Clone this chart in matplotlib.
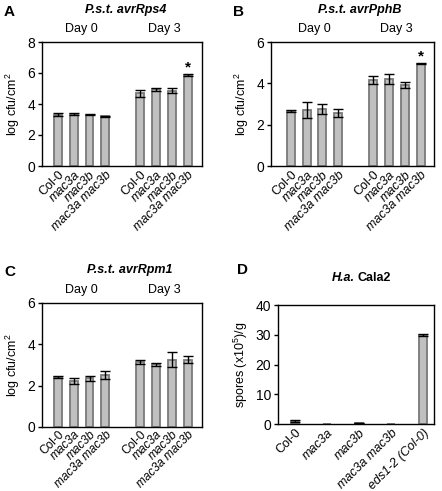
import matplotlib
matplotlib.use("Agg")
import matplotlib.pyplot as plt
from matplotlib.transforms import blended_transform_factory

plt.rcParams['font.family'] = ['Liberation Sans', 'DejaVu Sans']
plt.rcParams['mathtext.fontset'] = 'custom'
plt.rcParams['mathtext.rm'] = 'Liberation Sans'

W, H = 442, 491

genotypes = ["Col-0", "mac3a", "mac3b", "mac3a mac3b"]
italic_flags = [False, True, True, True]
days = ["Day 0", "Day 3"]

# Panel A: P.s.t. avrRps4
a_day0 = [3.32, 3.37, 3.30, 3.21]
a_day0_err = [0.10, 0.05, 0.04, 0.04]
a_day3 = [4.68, 4.95, 4.85, 5.88]
a_day3_err = [0.20, 0.10, 0.16, 0.08]

# Panel B: P.s.t. avrPphB
b_day0 = [2.67, 2.72, 2.76, 2.56]
b_day0_err = [0.06, 0.40, 0.22, 0.18]
b_day3 = [4.17, 4.20, 3.92, 4.95]
b_day3_err = [0.20, 0.25, 0.15, 0.03]

# Panel C: P.s.t. avrRpm1
c_day0 = [2.42, 2.22, 2.35, 2.50]
c_day0_err = [0.06, 0.14, 0.14, 0.20]
c_day3 = [3.13, 3.03, 3.25, 3.25]
c_day3_err = [0.10, 0.08, 0.36, 0.17]

# Panel D: H.a. Cala2
d_labels = ["Col-0", "mac3a", "mac3b", "mac3a mac3b", "eds1-2 (Col-0)"]
d_italic = [False, True, True, True, True]
d_values = [1.0, 0.0, 0.3, 0.0, 29.8]
d_err = [0.2, 0.0, 0.1, 0.0, 0.3]

FACE = "#c0c0c0"
EDGE = "#7a7a7a"
FS = 9


def px_axes(l, t, r, b):
    return fig.add_axes([l / W, 1 - b / H, (r - l) / W, (b - t) / H])


def ftext(x, y, s, **kw):
    fig.text(x / W, 1 - y / H, s, **kw)


def style(ax, ymax, step, ylabel, xpad=2):
    ax.set_ylim(0, ymax)
    ax.set_yticks(range(0, ymax + 1, step))
    for sp in ax.spines.values():
        sp.set_linewidth(1.0)
        sp.set_color("black")
    ax.tick_params(axis="y", direction="out", length=3, width=1, labelsize=FS + 1, pad=2)
    ax.tick_params(axis="x", length=0, pad=xpad)
    ax.set_ylabel(ylabel, fontsize=FS, labelpad=4)


def day_panel(ax, d0, e0, d3, e3, ymax, star, xlim, lfs=FS, xpad=2):
    xs = [0, 1, 2, 3, 5.2, 6.2, 7.2, 8.2]
    vals = d0 + d3
    errs = e0 + e3
    ax.bar(xs, vals, width=0.5, color=FACE, edgecolor=EDGE, linewidth=1.3, zorder=2)
    ax.errorbar(xs, vals, yerr=errs, fmt="none", ecolor="black", elinewidth=1,
                capsize=3.5, capthick=1, zorder=3)
    ax.set_xlim(*xlim)
    ax.set_xticks(xs)
    labs = ax.set_xticklabels(genotypes + genotypes, rotation=45, ha="right",
                              rotation_mode="anchor", fontsize=lfs)
    for lab, it in zip(labs, italic_flags + italic_flags):
        if it:
            lab.set_style("italic")
    style(ax, ymax, 2, "log cfu/cm$^2$", xpad)
    tr = blended_transform_factory(ax.transData, ax.transAxes)
    ax.text(1.5, 1.06, days[0], transform=tr, ha="center", va="bottom", fontsize=FS)
    ax.text(6.7, 1.06, days[1], transform=tr, ha="center", va="bottom", fontsize=FS)
    if star:
        ax.text(xs[-1], vals[-1] + errs[-1] + 0.05 * ymax, "*", ha="center",
                va="center", fontsize=FS + 2, fontweight="bold")


fig = plt.figure(figsize=(W / 100, H / 100), dpi=100)

axA = px_axes(42, 42, 202, 166)
day_panel(axA, a_day0, a_day0_err, a_day3, a_day3_err, 8, True, (-1.0, 9.1))
axB = px_axes(271, 42, 434, 166)
day_panel(axB, b_day0, b_day0_err, b_day3, b_day3_err, 6, True, (-1.25, 9.05))
axC = px_axes(42, 303, 202, 427)
day_panel(axC, c_day0, c_day0_err, c_day3, c_day3_err, 6, False, (-1.0, 9.1),
          lfs=8.6, xpad=1)

axD = px_axes(278, 305, 434, 424)
dx = list(range(len(d_values)))
axD.bar(dx, d_values, width=0.25, color=FACE, edgecolor=EDGE, linewidth=1.3, zorder=2)
axD.errorbar([x for x, e in zip(dx, d_err) if e > 0],
             [v for v, e in zip(d_values, d_err) if e > 0],
             yerr=[e for e in d_err if e > 0], fmt="none", ecolor="black",
             elinewidth=1, capsize=3.5, capthick=1, zorder=3)
axD.set_xlim(-0.53, 4.34)
axD.set_xticks(dx)
labsD = axD.set_xticklabels(d_labels, rotation=45, ha="right", rotation_mode="anchor", fontsize=FS)
for lab, it in zip(labsD, d_italic):
    if it:
        lab.set_style("italic")
style(axD, 40, 10, "spores (x10$^5$)/g")

# titles and panel letters
ftext(126, 10, "P.s.t. avrRps4", ha="center", va="center", fontsize=FS,
      fontweight="bold", style="italic")
ftext(360, 10, "P.s.t. avrPphB", ha="center", va="center", fontsize=FS,
      fontweight="bold", style="italic")
ftext(130, 270, "P.s.t. avrRpm1", ha="center", va="center", fontsize=FS,
      fontweight="bold", style="italic")
ftext(355, 278, "H.a.", ha="right", va="center", fontsize=FS,
      fontweight="bold", style="italic")
ftext(358, 278, "Cala2", ha="left", va="center", fontsize=FS, fontweight="bold")

ftext(4, 12, "A", ha="left", va="center", fontsize=FS + 2, fontweight="bold")
ftext(233, 12, "B", ha="left", va="center", fontsize=FS + 2, fontweight="bold")
ftext(4, 272, "C", ha="left", va="center", fontsize=FS + 2, fontweight="bold")
ftext(237, 270, "D", ha="left", va="center", fontsize=FS + 2, fontweight="bold")

fig.savefig("out.png", dpi=100)
